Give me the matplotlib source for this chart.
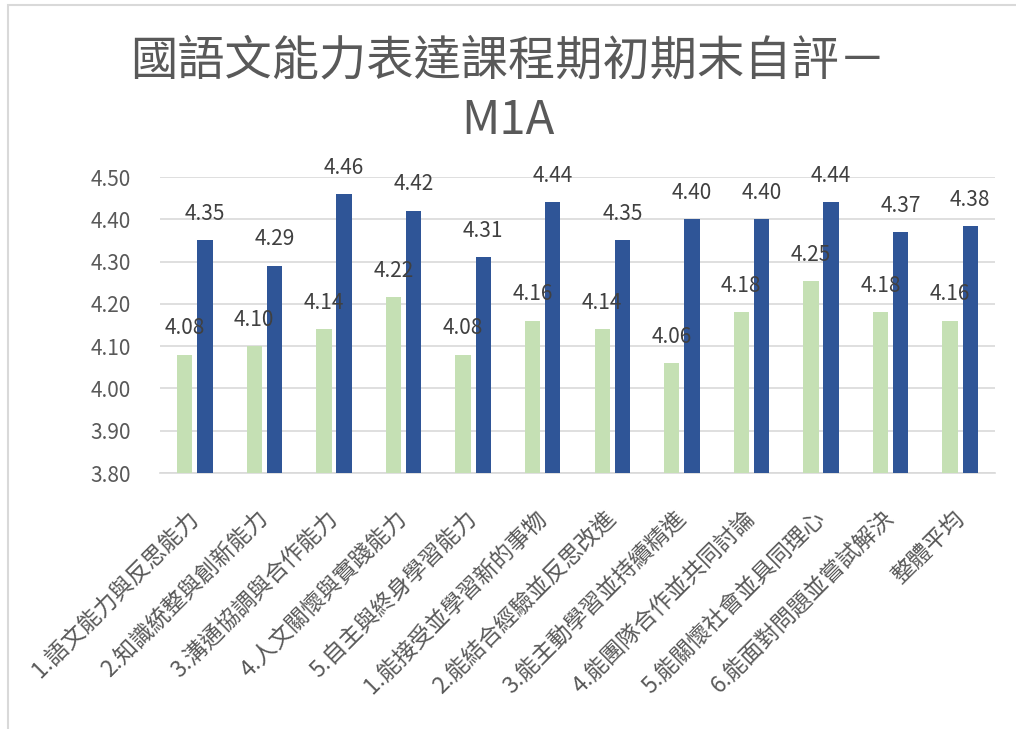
import numpy as np
import matplotlib.pyplot as plt
from matplotlib.patches import Rectangle

plt.rcParams['font.family'] = ['Noto Sans CJK TC', 'DejaVu Sans']

categories = ["1.語文能力與反思能力", "2.知識統整與創新能力", "3.溝通協調與合作能力",
              "4.人文關懷與實踐能力", "5.自主與終身學習能力", "1.能接受並學習新的事物",
              "2.能結合經驗並反思改進", "3.能主動學習並持續精進", "4.能團隊合作並共同討論",
              "5.能關懷社會並具同理心", "6.能面對問題並嘗試解決", "整體平均"]
pre = [4.08, 4.10, 4.14, 4.216, 4.08, 4.16, 4.14, 4.06, 4.18, 4.254, 4.18, 4.16]
post = [4.35, 4.29, 4.46, 4.42, 4.31, 4.44, 4.35, 4.40, 4.40, 4.44, 4.37, 4.384]

W, H = 1016, 729
fig = plt.figure(figsize=(W / 100, H / 100), dpi=100)
fig.patches.append(Rectangle((8 / W, -0.01), 1.2, 1.0 - 5 / H + 0.01, transform=fig.transFigure,
                             fill=False, edgecolor="#d9d9d9", linewidth=1.5))

# plot area in pixels: x 160..995, y 177..473
ax = fig.add_axes([160 / W, 1 - 473 / H, (995 - 160) / W, (473 - 177) / H])
x = np.arange(len(categories))
w = 0.22
off = 0.145
ax.bar(x - off, pre, w, color="#c5e0b4", zorder=3)
ax.bar(x + off, post, w, color="#2f5597", zorder=3)

for i in range(len(categories)):
    ax.annotate(f"{pre[i]:.2f}", (x[i] - off, pre[i]), xytext=(0, 19), textcoords="offset points",
                ha="center", va="center", fontsize=15, color="#404040", zorder=4)
    ax.annotate(f"{post[i]:.2f}", (x[i] + off, post[i]), xytext=(0, 19), textcoords="offset points",
                ha="center", va="center", fontsize=15, color="#404040", zorder=4)

ax.set_ylim(3.80, 4.50)
ax.set_xlim(-0.5, len(categories) - 0.5)
yt = np.arange(3.80, 4.501, 0.10)
ax.set_yticks(yt)
ax.set_yticklabels([f"{v:.2f}" for v in yt], fontsize=15, color="#595959")
ax.yaxis.grid(True, color="#d9d9d9", linewidth=1.2, zorder=0)
for s in ["top", "right", "left"]:
    ax.spines[s].set_visible(False)
ax.spines["bottom"].set_color("#d9d9d9")
ax.spines["bottom"].set_linewidth(1.2)
ax.tick_params(axis="both", length=0)
ax.tick_params(axis="y", pad=21)
ax.tick_params(axis="x", pad=30)
ax.set_xticks(x)
ax.set_xticklabels(categories, rotation=45, ha="right", va="center", rotation_mode="anchor",
                   fontsize=16.5, color="#595959")

fig.text(0.5, 1 - 61 / H, "國語文能力表達課程期初期末自評－", ha="center", va="center",
         fontsize=34, color="#595959")
fig.text(0.5, 1 - 121 / H, "M1A", ha="center", va="center", fontsize=34, color="#595959")

fig.savefig("out.png", dpi=100)
